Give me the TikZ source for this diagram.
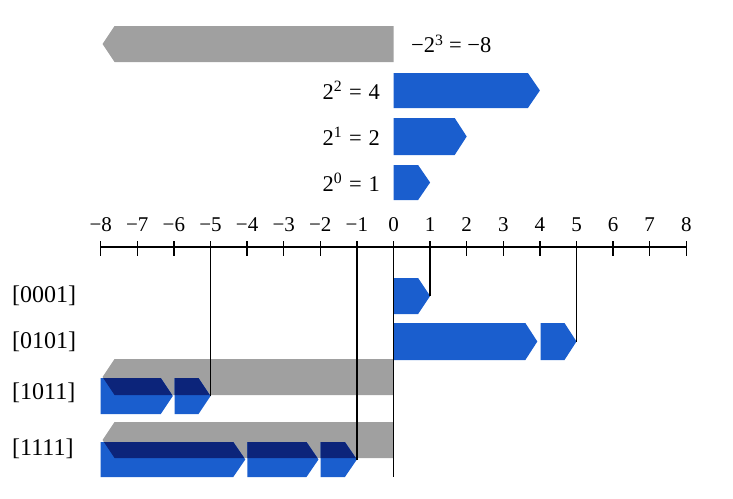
\documentclass[tikz,border=0pt]{standalone}
\usepackage{fontspec}
\setmainfont{Liberation Serif}
\definecolor{barblue}{RGB}{26,94,206}
\definecolor{barnavy}{RGB}{12,36,122}
\definecolor{bargrey}{RGB}{160,160,160}
\tikzset{
  axisnum/.style={font=\fontsize{21}{21}\selectfont, anchor=base, inner sep=0pt},
  eqlabel/.style={font=\fontsize{22.5}{22.5}\selectfont, inner sep=0pt},
  rowlabel/.style={font=\fontsize{24}{24}\selectfont, inner sep=0pt, anchor=west},
  guide/.style={line width=1.6pt},
  tickline/.style={line width=1.5pt},
  axisline/.style={line width=2pt},
}
\newcommand\xv[1]{393.5+36.6*(#1)}
% right-pointing bar from value #1 to value #2, top #3, bottom #4
\newcommand\rpath[4]{({\xv{#1}},#3) -- ({\xv{#2}-12},#3) -- ({\xv{#2}},{(#3+#4)/2}) -- ({\xv{#2}-12},#4) -- ({\xv{#1}},#4) -- cycle}
% left-pointing bar with tip at value #1, ending at value #2
\newcommand\lpath[4]{({\xv{#2}},#3) -- ({\xv{#1}+12},#3) -- ({\xv{#1}},{(#3+#4)/2}) -- ({\xv{#1}+12},#4) -- ({\xv{#2}},#4) -- cycle}
\begin{document}
\begin{tikzpicture}[x=1pt,y=-1pt]
\useasboundingbox (0,0) rectangle (733,498);

% ---------- top: weights ----------
\fill[bargrey] \lpath{-7.95}{0}{26}{62};
\node[eqlabel, anchor=west] (w3) at (411,44) {−2\textsuperscript{3}\hspace{0.25em}=\hspace{0.25em}−8};
\fill[barblue] \rpath{0}{4}{73}{108};
\node[eqlabel, anchor=east] (w2) at (380,90.5) {2\textsuperscript{2}\hspace{0.3em}=\hspace{0.3em}4};
\fill[barblue] \rpath{0}{2}{118}{155};
\node[eqlabel, anchor=east] (w1) at (380,136.5) {2\textsuperscript{1}\hspace{0.3em}=\hspace{0.3em}2};
\fill[barblue] \rpath{0}{1}{165}{200};
\node[eqlabel, anchor=east] (w0) at (380,182.5) {2\textsuperscript{0}\hspace{0.3em}=\hspace{0.3em}1};

% ---------- number line ----------
\coordinate (aL) at ({\xv{-8}},247);
\coordinate (aR) at ({\xv{8}},247);
\draw[axisline] (aL) -- (aR);
\foreach \v/\t in {-8/−8,-7/−7,-6/−6,-5/−5,-4/−4,-3/−3,-2/−2,-1/−1,0/0,1/1,2/2,3/3,4/4,5/5,6/6,7/7,8/8}{
  \coordinate (tk\v) at ({\xv{\v}},241);
  \draw[tickline] (tk\v) -- ++(0,15);
  \node[axisnum] (n\v) at ({\xv{\v}},231.5) {\t};
}

% ---------- rows ----------
\node[rowlabel] (r1) at (12,296) {[0001]};
\node[rowlabel] (r2) at (12,342) {[0101]};
\node[rowlabel] (r3) at (12,393) {[1011]};
\node[rowlabel] (r4) at (12,449) {[1111]};

% [0001]
\fill[barblue] \rpath{0}{1}{278}{314};
\coordinate (p1) at ({\xv{1}},296);
% [0101]
\fill[barblue] \rpath{0}{3.93}{323}{360};
\fill[barblue] \rpath{4.02}{5}{323}{360};
\coordinate (p2) at ({\xv{5}},341.5);
% [1011]
\fill[bargrey] \lpath{-7.95}{0}{359}{395};
\fill[barblue] \rpath{-8}{-6.03}{378}{414};
\fill[barblue] \rpath{-5.98}{-5}{378}{414};
\begin{scope}
  \clip \lpath{-7.95}{0}{359}{395};
  \fill[barnavy] \rpath{-8}{-6.03}{378}{414};
  \fill[barnavy] \rpath{-5.98}{-5}{378}{414};
\end{scope}
\coordinate (p3) at ({\xv{-5}},396);
% [1111]
\fill[bargrey] \lpath{-7.95}{0}{422}{458};
\fill[barblue] \rpath{-8}{-4.05}{442}{477};
\fill[barblue] \rpath{-3.99}{-2.05}{442}{477};
\fill[barblue] \rpath{-1.99}{-1}{442}{477};
\begin{scope}
  \clip \lpath{-7.95}{0}{422}{458};
  \fill[barnavy] \rpath{-8}{-4.05}{442}{477};
  \fill[barnavy] \rpath{-3.99}{-2.05}{442}{477};
  \fill[barnavy] \rpath{-1.99}{-1}{442}{477};
\end{scope}
\coordinate (p4) at ({\xv{-1}},459.5);
\coordinate (pz) at ({\xv{0}},477);

% ---------- guide lines ----------
\draw[guide] (tk1) -- (p1);
\draw[guide] (tk5) -- (p2);
\draw[guide] (tk-5) -- (p3);
\draw[guide] (tk-1) -- (p4);
\draw[guide] (tk0) -- (pz);
\end{tikzpicture}
\end{document}
